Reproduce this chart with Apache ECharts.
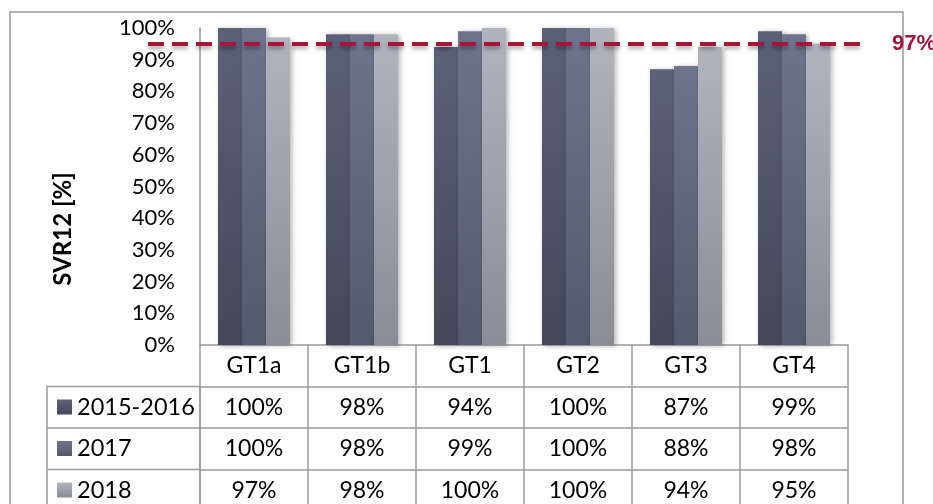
<!DOCTYPE html>
<html>
<head>
<meta charset="utf-8">
<script src="https://cdn.jsdelivr.net/npm/echarts@6/dist/echarts.min.js"></script>
<style>
  html, body { margin: 0; padding: 0; background: #fff; }
  #chart { width: 933px; height: 504px; }
</style>
</head>
<body>
<div id="chart"></div>
<script>
// data
const genotypes = ['GT1a', 'GT1b', 'GT1', 'GT2', 'GT3', 'GT4'];
const years = ['2015-2016', '2017', '2018'];
const svr2015 = [100, 98, 94, 100, 87, 99];
const svr2017 = [100, 98, 99, 100, 88, 98];
const svr2018 = [97, 98, 100, 100, 94, 95];
const yTicks = [0, 10, 20, 30, 40, 50, 60, 70, 80, 90, 100];
// dashed reference line: drawn at ~95 on the axis, labelled 97%
const targetLevel = 95;
const targetLabel = '97%';

const seriesValues = [svr2015, svr2017, svr2018];
const barColors = [
    ['#5b6177', '#444858'],
    ['#6d748c', '#545a6d'],
    ['#b1b3be', '#8a8d97']
];

const font = 'Lato, "Open Sans", sans-serif';
const gridLine = '#9a9a9a';
const rowH = 41.5;
const gridLeft = 200, gridRight = 848, gridTop = 28, gridBottom = 345;

let chart = echarts.init(document.getElementById('chart'));

//x axes: first one holds the genotype header, the rest are table rows
let xAxes = [genotypes].concat(seriesValues.map(vals => vals.map(v => v + '%'))).map((data, i) => ({
    type: 'category',
    data: data,
    position: 'bottom',
    offset: i * rowH,
    axisLine: { show: true, lineStyle: { color: gridLine, width: 1.5 } },
    axisTick: { show: true, length: rowH, lineStyle: { color: gridLine, width: 1.5 } },
    axisLabel: {
        margin: rowH / 2,
        verticalAlign: 'middle',
        color: '#000',
        fontFamily: font,
        fontSize: 23
    }
}));

let option = {
    animation: false,
    textStyle: { fontFamily: font },
    grid: {
        left: gridLeft,
        right: 933 - gridRight,
        top: gridTop,
        bottom: 504 - gridBottom,
        containLabel: false
    },
    legend: {
        orient: 'vertical',
        left: 57,
        top: 395,
        padding: 0,
        itemWidth: 15,
        itemHeight: 15,
        itemGap: 17.5,
        icon: 'rect',
        data: years,
        textStyle: { fontFamily: font, fontSize: 23.5, color: '#000', lineHeight: 24 }
    },
    xAxis: xAxes,
    yAxis: {
        type: 'value',
        min: yTicks[0],
        max: yTicks[yTicks.length - 1],
        interval: 10,
        axisLine: { show: true, lineStyle: { color: gridLine, width: 1.5 } },
        axisTick: { show: false },
        splitLine: { show: false },
        axisLabel: {
            margin: 25,
            color: '#000',
            fontFamily: font,
            fontSize: 22,
            formatter: '{value}%'
        }
    },
    series: years.map((name, i) => ({
        type: 'bar',
        name: name,
        data: seriesValues[i],
        barWidth: 24,
        barGap: '0%',
        itemStyle: {
            color: new echarts.graphic.LinearGradient(0, 0, 0, 1, [
                { offset: 0, color: barColors[i][0] },
                { offset: 1, color: barColors[i][1] }
            ]),
            shadowBlur: 5,
            shadowColor: 'rgba(0,0,0,0.3)',
            shadowOffsetX: 2,
            shadowOffsetY: 1
        },
        markLine: i === 2 ? {
            silent: true,
            symbol: 'none',
            lineStyle: {
                color: '#a3173a',
                width: 4,
                type: [16, 8],
                shadowBlur: 4,
                shadowColor: 'rgba(0,0,0,0.35)',
                shadowOffsetY: 3
            },
            label: {
                position: 'end',
                distance: 28,
                formatter: targetLabel,
                color: '#a3173a',
                fontWeight: 'bold',
                fontSize: 22,
                fontFamily: 'Liberation Sans, Arial, sans-serif'
            },
            data: [[{ x: 148, yAxis: targetLevel }, { x: 864, yAxis: targetLevel }]]
        } : undefined
    })),
    graphic: [
        //outer frame
        {
            type: 'rect',
            shape: { x: 10, y: 12, width: 893, height: 520 },
            style: { fill: 'none', stroke: gridLine, lineWidth: 1.5 },
            silent: true
        },
        //legend column of the data table
        {
            type: 'rect',
            shape: { x: 47, y: gridBottom + rowH, width: gridLeft - 47, height: rowH * 4 },
            style: { fill: 'none', stroke: gridLine, lineWidth: 1.5 },
            silent: true
        },
        {
            type: 'line',
            shape: { x1: 47, y1: gridBottom + rowH * 2, x2: gridLeft, y2: gridBottom + rowH * 2 },
            style: { stroke: gridLine, lineWidth: 1.5 },
            silent: true
        },
        {
            type: 'line',
            shape: { x1: 47, y1: gridBottom + rowH * 3, x2: gridLeft, y2: gridBottom + rowH * 3 },
            style: { stroke: gridLine, lineWidth: 1.5 },
            silent: true
        },
        //axis title
        {
            type: 'text',
            x: 63,
            y: 229,
            rotation: Math.PI / 2,
            style: {
                text: 'SVR12 [%]',
                fontFamily: font,
                fontWeight: 'bold',
                fontSize: 24,
                fill: '#000',
                align: 'center',
                verticalAlign: 'middle'
            },
            silent: true
        }
    ]
};

chart.setOption(option);
</script>
</body>
</html>
